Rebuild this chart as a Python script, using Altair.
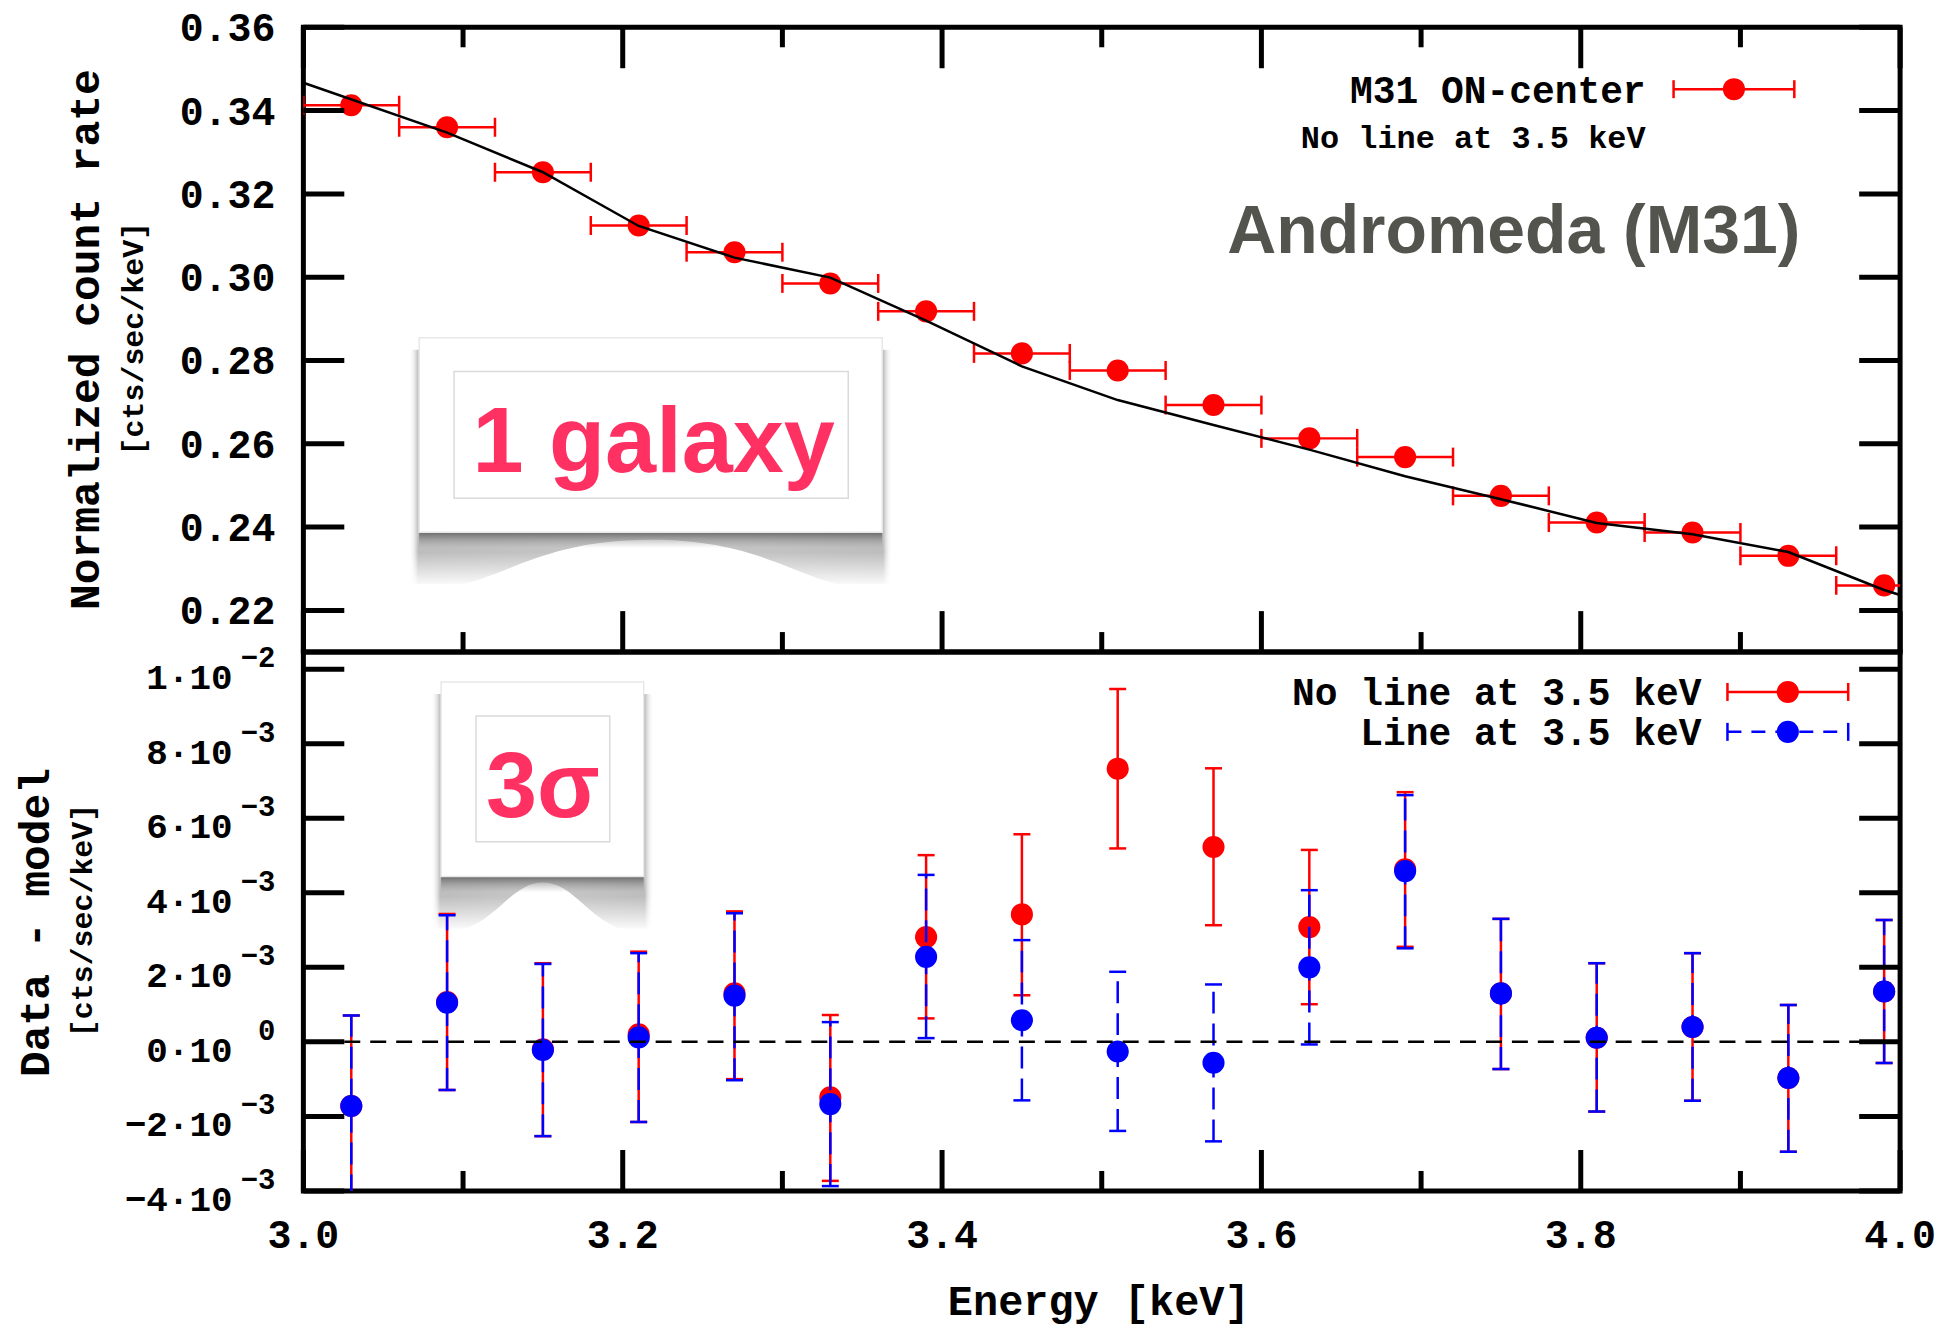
import altair as alt
import pandas as pd

# ---------------- values ----------------
energy_keV = [3.03, 3.09, 3.15, 3.21, 3.27, 3.33, 3.39, 3.45, 3.51,
              3.57, 3.63, 3.69, 3.75, 3.81, 3.87, 3.93, 3.99]
bin_half_width = 0.03
count_rate = [0.3413, 0.3360, 0.3252, 0.3124, 0.3060, 0.2985, 0.2918, 0.2817, 0.2776,
              0.2693, 0.2613, 0.2568, 0.2475, 0.2411, 0.2387, 0.2331, 0.2260]
model_energy = [3.00, 3.09, 3.15, 3.21, 3.27, 3.33, 3.39, 3.45, 3.51,
                3.57, 3.63, 3.69, 3.75, 3.81, 3.87, 3.93, 3.99, 4.00]
model_rate = [0.3467, 0.3347, 0.3252, 0.3123, 0.3047, 0.2999, 0.2896, 0.2786, 0.2705,
              0.2645, 0.2586, 0.2522, 0.2467, 0.2410, 0.2383, 0.2340, 0.2249, 0.2237]

# residuals (data - model), cts/sec/keV
resid_noline = [-1.72e-3, 1.07e-3, -0.20e-3, 0.20e-3, 1.30e-3, -1.49e-3, 2.81e-3, 3.42e-3, 7.33e-3,
                5.23e-3, 3.08e-3, 4.63e-3, 1.30e-3, 0.11e-3, 0.40e-3, -0.97e-3, 1.35e-3]
resid_noline_lo = [-4.15e-3, -1.29e-3, -2.53e-3, -2.15e-3, -1.00e-3, -3.73e-3, 0.63e-3, 1.25e-3, 5.19e-3,
                   3.13e-3, 1.01e-3, 2.55e-3, -0.73e-3, -1.87e-3, -1.58e-3, -2.95e-3, -0.57e-3]
resid_noline_hi = [0.71e-3, 3.43e-3, 2.11e-3, 2.42e-3, 3.50e-3, 0.72e-3, 5.01e-3, 5.57e-3, 9.47e-3,
                   7.34e-3, 5.15e-3, 6.70e-3, 3.30e-3, 2.11e-3, 2.38e-3, 0.99e-3, 3.27e-3]
resid_line = [-1.72e-3, 1.05e-3, -0.22e-3, 0.12e-3, 1.24e-3, -1.67e-3, 2.28e-3, 0.58e-3, -0.26e-3,
              -0.56e-3, 2.00e-3, 4.58e-3, 1.30e-3, 0.11e-3, 0.40e-3, -0.97e-3, 1.35e-3]
resid_line_lo = [-4.15e-3, -1.29e-3, -2.53e-3, -2.15e-3, -1.03e-3, -3.87e-3, 0.10e-3, -1.57e-3, -2.39e-3,
                 -2.67e-3, -0.07e-3, 2.51e-3, -0.73e-3, -1.87e-3, -1.58e-3, -2.95e-3, -0.57e-3]
resid_line_hi = [0.71e-3, 3.40e-3, 2.09e-3, 2.38e-3, 3.45e-3, 0.53e-3, 4.48e-3, 2.73e-3, 1.88e-3,
                 1.54e-3, 4.07e-3, 6.62e-3, 3.30e-3, 2.11e-3, 2.38e-3, 0.99e-3, 3.27e-3]
zero_level = [0.0]

x_major_ticks = [3.0, 3.2, 3.4, 3.6, 3.8, 4.0]
x_minor_ticks = [3.1, 3.3, 3.5, 3.7, 3.9]
x_tick_labels = ["3.0", "3.2", "3.4", "3.6", "3.8", "4.0"]
top_y_ticks = [0.22, 0.24, 0.26, 0.28, 0.30, 0.32, 0.34, 0.36]
top_y_labels = ["0.22", "0.24", "0.26", "0.28", "0.30", "0.32", "0.34", "0.36"]
bot_y_ticks = [-0.004, -0.002, 0.0, 0.002, 0.004, 0.006, 0.008, 0.010]
bot_y_mantissa = ["\u22124\u00b710", "\u22122\u00b710", "0\u00b710", "2\u00b710",
                  "4\u00b710", "6\u00b710", "8\u00b710", "1\u00b710"]
bot_y_exponent = ["\u22123", "\u22123", "0", "\u22123", "\u22123", "\u22123", "\u22123", "\u22122"]

legend_top = ["M31 ON-center", "No line at 3.5 keV"]
legend_bottom = ["No line at 3.5 keV", "Line at 3.5 keV"]
top_title = "Normalized count rate"
bot_title = "Data - model"
unit_title = "[cts/sec/keV]"
x_title = "Energy [keV]"
object_name = "Andromeda (M31)"
note_top = "1 galaxy"
note_bottom = "3\u03c3"

# ---------------- styling ----------------
W, H1, H2 = 1600, 626, 540
RED, BLUE, PINK, GREY = "#ff0000", "#0000ff", "#ff3062", "#54544f"
MONO, SANS = "Liberation Mono", "Liberation Sans"
TICK_W, MAJ, MIN = 5, 41, 20
EB_W = 2.5

xsc = alt.Scale(domain=[3.0, 4.0], nice=False, zero=False)
y1sc = alt.Scale(domain=[0.21, 0.36], nice=False, zero=False)
y2sc = alt.Scale(domain=[-0.004, 0.01046], nice=False, zero=False)


def X(f):
    return alt.X(f"{f}:Q", scale=xsc, axis=None)


def Y1(f):
    return alt.Y(f"{f}:Q", scale=y1sc, axis=None)


def Y2(f):
    return alt.Y(f"{f}:Q", scale=y2sc, axis=None)


def grad(stops, horizontal=True):
    return alt.LinearGradient(
        gradient="linear",
        stops=[alt.GradientStop(color=c, offset=o) for o, c in stops],
        x1=0, x2=1 if horizontal else 0, y1=0, y2=0 if horizontal else 1)


def note(left, top, right, bottom, inner, label, tx, ty, dome_path, dome_w, dome_cx, dome_cy):
    w = right - left + 20
    f = 9.0 / w
    layers = [
        alt.Chart().mark_rect(fill=grad([(0, "rgba(255,255,255,0)"), (f, "#bdbdbd"), (0.5, "#c8c8c8"),
                                          (1 - f, "#bdbdbd"), (1, "rgba(255,255,255,0)")])).encode(
            x=alt.value(left - 10), x2=alt.value(right + 10), y=alt.value(top + 12), y2=alt.value(bottom + 52)),
        alt.Chart().mark_rect(fill=grad([(0, "rgba(255,255,255,0)"), (1, "#ffffff")], horizontal=False)).encode(
            x=alt.value(left - 12), x2=alt.value(right + 12), y=alt.value(bottom + 20), y2=alt.value(bottom + 55)),
        alt.Chart().mark_point(shape=dome_path, filled=True, fill="white", opacity=1, strokeWidth=0,
                               size=dome_w * dome_w).encode(x=alt.value(dome_cx), y=alt.value(dome_cy)),
        alt.Chart().mark_rect(fill=grad([(0, "rgba(70,70,70,0.7)"), (1, "rgba(150,150,150,0)")],
                                        horizontal=False)).encode(
            x=alt.value(left), x2=alt.value(right), y=alt.value(bottom), y2=alt.value(bottom + 16)),
        alt.Chart().mark_rect(fill="white", stroke="#e8e8e8", strokeWidth=1.5).encode(
            x=alt.value(left), x2=alt.value(right), y=alt.value(top), y2=alt.value(bottom)),
        alt.Chart().mark_rect(fill="white", stroke="#dadada", strokeWidth=1.5).encode(
            x=alt.value(inner[0]), x2=alt.value(inner[2]), y=alt.value(inner[1]), y2=alt.value(inner[3])),
        alt.Chart().mark_text(font=SANS, fontWeight="bold", fontSize=92, color=PINK, align="center",
                              baseline="alphabetic", text=label).encode(x=alt.value(tx), y=alt.value(ty)),
    ]
    return layers


def frame_ticks(yvals, yfield_fn, height, top_x=True, bottom_x=True):
    ydf = pd.DataFrame({"v": yvals})
    mj = pd.DataFrame({"v": x_major_ticks})
    mn = pd.DataFrame({"v": x_minor_ticks})
    rule = dict(color="black", strokeWidth=TICK_W)
    out = [
        alt.Chart(ydf).mark_rule(**rule).encode(y=yfield_fn("v"), x=alt.value(0), x2=alt.value(MAJ)),
        alt.Chart(ydf).mark_rule(**rule).encode(y=yfield_fn("v"), x=alt.value(W - MAJ), x2=alt.value(W)),
    ]
    if top_x:
        out += [
            alt.Chart(mj).mark_rule(**rule).encode(x=X("v"), y=alt.value(0), y2=alt.value(MAJ)),
            alt.Chart(mn).mark_rule(**rule).encode(x=X("v"), y=alt.value(0), y2=alt.value(MIN)),
        ]
    if bottom_x:
        out += [
            alt.Chart(mj).mark_rule(**rule).encode(x=X("v"), y=alt.value(height - MAJ), y2=alt.value(height)),
            alt.Chart(mn).mark_rule(**rule).encode(x=X("v"), y=alt.value(height - MIN), y2=alt.value(height)),
        ]
    return out


def errbar_symbol(x0, x1, y, color, dash=None):
    kw = dict(color=color, strokeWidth=EB_W)
    if dash:
        kw["strokeDash"] = dash
    return [
        alt.Chart().mark_rule(**kw).encode(x=alt.value(x0), x2=alt.value(x1), y=alt.value(y)),
        alt.Chart().mark_rule(color=color, strokeWidth=EB_W).encode(
            x=alt.value(x0), y=alt.value(y - 9), y2=alt.value(y + 9)),
        alt.Chart().mark_rule(color=color, strokeWidth=EB_W).encode(
            x=alt.value(x1), y=alt.value(y - 9), y2=alt.value(y + 9)),
        alt.Chart().mark_point(filled=True, shape="circle", size=490, color=color, opacity=1).encode(
            x=alt.value((x0 + x1) / 2), y=alt.value(y)),
    ]


# ---------------- top panel ----------------
top_df = pd.DataFrame({
    "e": energy_keV,
    "lo": [e - bin_half_width for e in energy_keV],
    "hi": [e + bin_half_width for e in energy_keV],
    "rate": count_rate,
})
model_df = pd.DataFrame({"e": model_energy, "rate": model_rate})

top_layers = []
top_layers += note(116, 311, 580, 506, (151, 345, 546, 472), note_top, 351, 446,
                   "M -1 1 C -0.7 1 -0.55 0.78 0 0.78 C 0.55 0.78 0.7 1 1 1 Z", 440, 348, 342)
top_layers += [
    alt.Chart().mark_text(font=SANS, fontWeight="bold", fontSize=68, color=GREY, align="right",
                          baseline="alphabetic", text=object_name).encode(x=alt.value(1500), y=alt.value(226)),
    alt.Chart(top_df).mark_rule(color=RED, strokeWidth=EB_W, clip=True).encode(
        x=X("lo"), x2="hi", y=Y1("rate")),
    alt.Chart(top_df).transform_fold(["lo", "hi"], as_=["k", "cap"]).mark_tick(
        orient="vertical", size=19, thickness=EB_W, color=RED, opacity=1, clip=True).encode(
        x=X("cap"), y=Y1("rate")),
    alt.Chart(top_df).mark_circle(size=490, color=RED, opacity=1).encode(x=X("e"), y=Y1("rate")),
    alt.Chart(model_df).mark_line(color="black", strokeWidth=2.5).encode(x=X("e"), y=Y1("rate")),
]
top_layers += frame_ticks(top_y_ticks, Y1, H1)
top_layers += [
    alt.Chart(pd.DataFrame({"v": top_y_ticks, "t": top_y_labels})).mark_text(
        font=MONO, fontWeight="bold", fontSize=40, align="right", baseline="middle", dy=2).encode(
        y=Y1("v"), x=alt.value(-28), text="t:N"),
    alt.Chart().mark_text(font=MONO, fontWeight="bold", fontSize=43, angle=270, align="center",
                          baseline="middle", text=top_title).encode(x=alt.value(-218), y=alt.value(313)),
    alt.Chart().mark_text(font=MONO, fontWeight="bold", fontSize=30, angle=270, align="center",
                          baseline="middle", text=unit_title).encode(x=alt.value(-170), y=alt.value(312)),
    alt.Chart().mark_text(font=MONO, fontWeight="bold", fontSize=38, align="right", baseline="middle",
                          text=legend_top[0]).encode(x=alt.value(1345), y=alt.value(65)),
    alt.Chart().mark_text(font=MONO, fontWeight="bold", fontSize=32, align="right", baseline="middle",
                          text=legend_top[1]).encode(x=alt.value(1345), y=alt.value(111)),
]
top_layers += errbar_symbol(1373, 1494, 62, RED)

top = alt.layer(*top_layers).properties(width=W, height=H1)

# ---------------- bottom panel ----------------
res_df = pd.DataFrame({
    "e": energy_keV,
    "nl": resid_noline, "nl_lo": resid_noline_lo, "nl_hi": resid_noline_hi,
    "l": resid_line, "l_lo": resid_line_lo, "l_hi": resid_line_hi,
})

bot_layers = []
bot_layers += note(138, 30, 341, 225, (173, 64, 307, 190), note_bottom, 240, 165,
                   "M -1 1 C -0.5 1 -0.35 0.5 0 0.5 C 0.35 0.5 0.5 1 1 1 Z", 200, 240, 181)
bot_layers += [
    alt.Chart(res_df).mark_rule(color=RED, strokeWidth=EB_W, clip=True).encode(
        x=X("e"), y=Y2("nl_lo"), y2="nl_hi"),
    alt.Chart(res_df).transform_fold(["nl_lo", "nl_hi"], as_=["k", "cap"]).mark_tick(
        orient="horizontal", size=17, thickness=EB_W, color=RED, opacity=1, clip=True).encode(
        x=X("e"), y=Y2("cap")),
    alt.Chart(res_df).mark_circle(size=490, color=RED, opacity=1).encode(x=X("e"), y=Y2("nl")),
    alt.Chart(res_df).mark_rule(color=BLUE, strokeWidth=EB_W, strokeDash=[22, 10], clip=True).encode(
        x=X("e"), y=Y2("l_lo"), y2="l_hi"),
    alt.Chart(res_df).transform_fold(["l_lo", "l_hi"], as_=["k", "cap"]).mark_tick(
        orient="horizontal", size=17, thickness=EB_W, color=BLUE, opacity=1, clip=True).encode(
        x=X("e"), y=Y2("cap")),
    alt.Chart(res_df).mark_circle(size=490, color=BLUE, opacity=1).encode(x=X("e"), y=Y2("l")),
    alt.Chart(pd.DataFrame({"z": zero_level})).mark_rule(color="black", strokeWidth=2.5,
                                                          strokeDash=[16, 10]).encode(
        y=Y2("z"), x=alt.value(MAJ), x2=alt.value(W)),
]
bot_layers += frame_ticks(bot_y_ticks, Y2, H2, top_x=False, bottom_x=True)
lab_df = pd.DataFrame({"v": bot_y_ticks, "m": bot_y_mantissa, "p": bot_y_exponent})
bot_layers += [
    alt.Chart(lab_df).mark_text(font=MONO, fontWeight="bold", fontSize=36, align="right",
                                baseline="middle", dy=9).encode(y=Y2("v"), x=alt.value(-71), text="m:N"),
    alt.Chart(lab_df).mark_text(font=MONO, fontWeight="bold", fontSize=29, align="right",
                                baseline="middle", dy=-11).encode(y=Y2("v"), x=alt.value(-28), text="p:N"),
    alt.Chart(pd.DataFrame({"v": x_major_ticks, "t": x_tick_labels})).mark_text(
        font=MONO, fontWeight="bold", fontSize=40, align="center", baseline="middle").encode(
        x=X("v"), y=alt.value(H2 + 45), text="t:N"),
    alt.Chart().mark_text(font=MONO, fontWeight="bold", fontSize=42, align="center", baseline="middle",
                          text=x_title).encode(x=alt.value(797), y=alt.value(H2 + 111)),
    alt.Chart().mark_text(font=MONO, fontWeight="bold", fontSize=43, angle=270, align="center",
                          baseline="middle", text=bot_title).encode(x=alt.value(-268), y=alt.value(271)),
    alt.Chart().mark_text(font=MONO, fontWeight="bold", fontSize=30, angle=270, align="center",
                          baseline="middle", text=unit_title).encode(x=alt.value(-221), y=alt.value(269)),
    alt.Chart().mark_text(font=MONO, fontWeight="bold", fontSize=38, align="right", baseline="middle",
                          text=legend_bottom[0]).encode(x=alt.value(1401), y=alt.value(42)),
    alt.Chart().mark_text(font=MONO, fontWeight="bold", fontSize=38, align="right", baseline="middle",
                          text=legend_bottom[1]).encode(x=alt.value(1401), y=alt.value(82)),
]
bot_layers += errbar_symbol(1427, 1548, 40, RED)
bot_layers += errbar_symbol(1427, 1548, 80, BLUE, dash=[14, 10])

bottom = alt.layer(*bot_layers).properties(width=W, height=H2)

chart = alt.vconcat(top, bottom, spacing=0, bounds="flush").properties(
    padding={"left": 12, "top": 5, "right": 10, "bottom": 5},
    background="white",
).configure_view(stroke="black", strokeWidth=5)

chart.save("out.html", embed_options={"renderer": "svg", "actions": False})
